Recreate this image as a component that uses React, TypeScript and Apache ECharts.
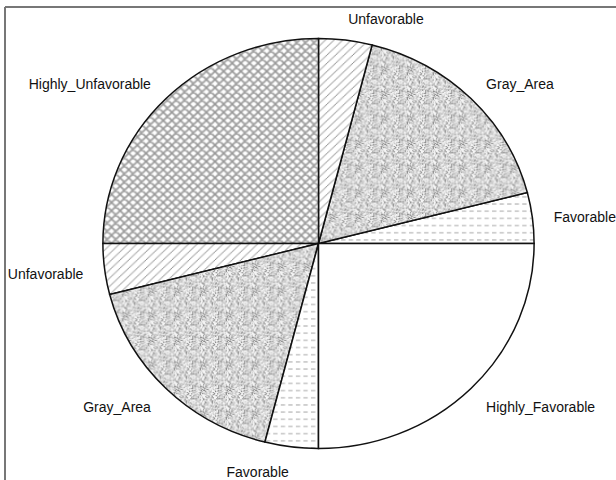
import React, { useEffect, useRef } from "react";
import * as echarts from "echarts";

// Slices in R pie order: counter-clockwise starting at 3 o'clock
const categories = [
  "Favorable",
  "Gray_Area",
  "Unfavorable",
  "Highly_Unfavorable",
  "Unfavorable",
  "Gray_Area",
  "Favorable",
  "Highly_Favorable",
];
const values = [4, 17, 4, 25, 4, 17, 4, 25];
const fillKinds = ["dash", "stipple", "hatch", "cross", "hatch", "stipple", "dash", "none"];

const W = 616;
const H = 480;
const CX = 318.5;
const CY = 243.5;
const RX = 215.5;
const RY = 205;
const R = 200;
const LABEL_KX = 1.1 * RX;
const LABEL_KY = 228.5;
const LABEL_DY = 2;

function makeCanvas(w: number, h: number) {
  const c = document.createElement("canvas");
  c.width = w;
  c.height = h;
  const ctx = c.getContext("2d")!;
  ctx.fillStyle = "#ffffff";
  ctx.fillRect(0, 0, w, h);
  return { c, ctx };
}

function hash(x: number, y: number) {
  let h = (x * 374761393 + y * 668265263) >>> 0;
  h = ((h ^ (h >>> 13)) * 1274126177) >>> 0;
  return (h ^ (h >>> 16)) >>> 0;
}

function makePattern(kind: string): any {
  if (kind === "none") return "#ffffff";
  if (kind === "hatch") {
    const { c, ctx } = makeCanvas(8, 8);
    ctx.strokeStyle = "#8c8c8c";
    ctx.lineWidth = 1;
    ctx.beginPath();
    ctx.moveTo(-1, 9);
    ctx.lineTo(9, -1);
    ctx.moveTo(-1, 1);
    ctx.lineTo(1, -1);
    ctx.moveTo(7, 9);
    ctx.lineTo(9, 7);
    ctx.stroke();
    return { image: c, repeat: "repeat", imageWidth: 8, imageHeight: 8 };
  }
  if (kind === "cross") {
    const { c, ctx } = makeCanvas(8, 8);
    ctx.strokeStyle = "#9a9a9a";
    ctx.lineWidth = 1.6;
    ctx.beginPath();
    ctx.moveTo(-1, 9);
    ctx.lineTo(9, -1);
    ctx.moveTo(-1, 1);
    ctx.lineTo(1, -1);
    ctx.moveTo(7, 9);
    ctx.lineTo(9, 7);
    ctx.moveTo(-1, -1);
    ctx.lineTo(9, 9);
    ctx.moveTo(7, -1);
    ctx.lineTo(9, 1);
    ctx.moveTo(-1, 7);
    ctx.lineTo(1, 9);
    ctx.stroke();
    return { image: c, repeat: "repeat", imageWidth: 8, imageHeight: 8 };
  }
  if (kind === "stipple") {
    const n = 24;
    const { c, ctx } = makeCanvas(n, n);
    const img = ctx.getImageData(0, 0, n, n);
    for (let y = 0; y < n; y++) {
      for (let x = 0; x < n; x++) {
        const v = hash(x, y) % 100;
        let g = 245;
        if (v < 14) g = 130;
        else if (v < 40) g = 190;
        else if (v < 62) g = 220;
        const i = (y * n + x) * 4;
        img.data[i] = g;
        img.data[i + 1] = g;
        img.data[i + 2] = g;
        img.data[i + 3] = 255;
      }
    }
    ctx.putImageData(img, 0, 0);
    return { image: c, repeat: "repeat", imageWidth: n, imageHeight: n };
  }
  // dash
  const { c, ctx } = makeCanvas(7, 7);
  ctx.fillStyle = "#a8a8a8";
  ctx.fillRect(0, 3, 4, 1);
  return { image: c, repeat: "repeat", imageWidth: 7, imageHeight: 7 };
}

export default function App() {
  const ref = useRef<HTMLDivElement>(null);

  useEffect(() => {
    document.body.style.margin = "0";
    if (!ref.current) return;
    const chart = echarts.init(ref.current, null, { renderer: "svg" });
    const fills = fillKinds.map(makePattern);
    const total = values.reduce((a, b) => a + b, 0);
    const cum: number[] = [0];
    values.forEach((v, i) => cum.push(cum[i] + v));

    const option: any = {
      animation: false,
      backgroundColor: "#ffffff",
      graphic: [
        {
          type: "line",
          shape: { x1: 5, y1: 7, x2: W, y2: 7 },
          style: { stroke: "#777777", lineWidth: 2 },
        },
        {
          type: "line",
          shape: { x1: 5, y1: 7, x2: 5, y2: H },
          style: { stroke: "#777777", lineWidth: 2 },
        },
      ],
      series: [
        {
          type: "custom",
          coordinateSystem: "none",
          data: values.map((v, i) => ({ name: categories[i], value: v })),
          renderItem: (params: any) => {
            const i = params.dataIndex;
            const f0 = cum[i] / total;
            const f1 = cum[i + 1] / total;
            const mid = Math.PI * (f0 + f1);
            const px = Math.cos(mid);
            const py = Math.sin(mid);
            const lx = CX + LABEL_KX * px;
            const ly = CY - LABEL_KY * py + LABEL_DY;
            return {
              type: "group",
              children: [
                {
                  type: "group",
                  x: CX,
                  y: CY,
                  scaleX: RX / R,
                  scaleY: RY / R,
                  children: [
                    {
                      type: "sector",
                      shape: {
                        cx: 0,
                        cy: 0,
                        r0: 0,
                        r: R,
                        startAngle: -2 * Math.PI * f0,
                        endAngle: -2 * Math.PI * f1,
                        clockwise: false,
                      },
                      style: {
                        fill: fills[i],
                        stroke: "#111111",
                        lineWidth: 1.4,
                      },
                    },
                  ],
                },
                {
                  type: "text",
                  x: lx,
                  y: ly,
                  style: {
                    text: categories[i],
                    fill: "#111111",
                    font: '14px "Liberation Sans", Arial, sans-serif',
                    align: px < 0 ? "right" : "left",
                    verticalAlign: "middle",
                  },
                },
              ],
            };
          },
        },
      ],
    };
    chart.setOption(option);
    return () => chart.dispose();
  }, []);

  return <div ref={ref} style={{ width: W, height: H }} />;
}
